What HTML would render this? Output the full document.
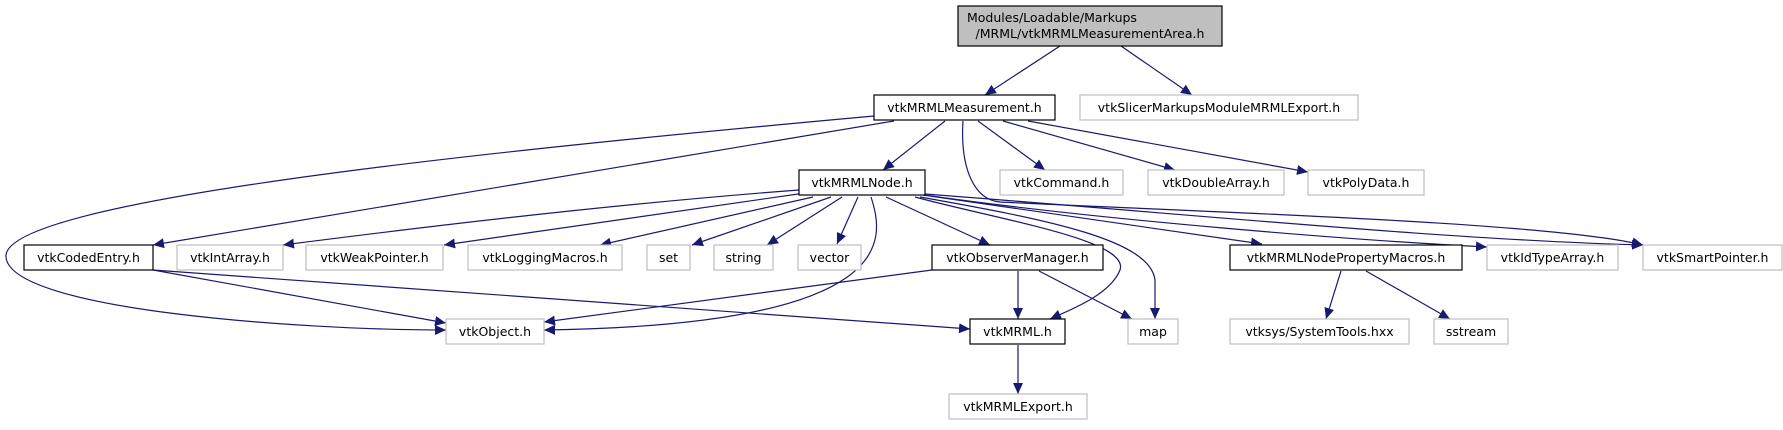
<!DOCTYPE html>
<html><head><meta charset="utf-8"><style>
body{margin:0;background:#fff;}
svg text{font-family:"DejaVu Sans","Liberation Sans",sans-serif;font-size:12.5px;fill:#000;}
</style></head><body>
<svg width="1783" height="425" viewBox="0 0 1783 425" xmlns="http://www.w3.org/2000/svg">
<defs><marker id="a" markerUnits="userSpaceOnUse" markerWidth="12" markerHeight="10" refX="11" refY="5" orient="auto"><path d="M0,0 L11,5 L0,10 z" fill="#191970"/></marker></defs>
<g fill="none" stroke="#191970" stroke-width="1.2" marker-end="url(#a)">
<path d="M1060,46 L985,95"/>
<path d="M1121,46 L1192,95"/>
<path d="M874,116 C500,150 0,200 6,257 C10,310 300,330 446,330"/>
<path d="M894,121 L153,245"/>
<path d="M945,121 L883,170"/>
<path d="M978,121 L1045,170"/>
<path d="M1003,121 L1175,170"/>
<path d="M1028,121 L1308,172"/>
<path d="M963,121 C960,170 975,200 1000,202 C1200,212 1550,222 1643,245"/>
<path d="M799,190 C600,205 400,230 283,245"/>
<path d="M805,193 L444,245"/>
<path d="M813,197 L600,245"/>
<path d="M831,197 L692,245"/>
<path d="M842,197 L767,245"/>
<path d="M858,197 L837,244"/>
<path d="M871,197 C885,240 900,325 544,330"/>
<path d="M886,197 L990,245"/>
<path d="M915,197 C1000,220 1130,240 1120,270 C1110,295 1070,310 1050,319"/>
<path d="M920,197 C1050,220 1150,240 1155,280 L1155,319"/>
<path d="M923,195 L1262,244"/>
<path d="M924,195 C1100,220 1350,240 1487,247"/>
<path d="M925,194 C1200,215 1450,240 1643,245"/>
<path d="M932,270 L544,322"/>
<path d="M1018,271 L1018,319"/>
<path d="M1039,271 L1132,319"/>
<path d="M153,270 L446,323"/>
<path d="M153,270 L970,329"/>
<path d="M1018,345 L1018,394"/>
<path d="M1341,271 L1326,319"/>
<path d="M1366,271 L1450,319"/>
</g>
<g stroke-width="1.2">
<rect x="958" y="6" width="264" height="40" fill="#bfbfbf" stroke="#000"/>
<rect x="874" y="95" width="181" height="25" fill="#fff" stroke="#000"/>
<rect x="1080" y="95" width="278" height="25" fill="#fff" stroke="#bfbfbf"/>
<rect x="799" y="170" width="126" height="25" fill="#fff" stroke="#000"/>
<rect x="1000" y="170" width="123" height="25" fill="#fff" stroke="#bfbfbf"/>
<rect x="1148" y="170" width="136" height="25" fill="#fff" stroke="#bfbfbf"/>
<rect x="1308" y="170" width="116" height="25" fill="#fff" stroke="#bfbfbf"/>
<rect x="24" y="245" width="129" height="25" fill="#fff" stroke="#000"/>
<rect x="177" y="245" width="106" height="25" fill="#fff" stroke="#bfbfbf"/>
<rect x="306" y="245" width="137" height="25" fill="#fff" stroke="#bfbfbf"/>
<rect x="468" y="245" width="154" height="25" fill="#fff" stroke="#bfbfbf"/>
<rect x="647" y="245" width="43" height="25" fill="#fff" stroke="#bfbfbf"/>
<rect x="714" y="245" width="59" height="25" fill="#fff" stroke="#bfbfbf"/>
<rect x="798" y="245" width="63" height="25" fill="#fff" stroke="#bfbfbf"/>
<rect x="932" y="245" width="171" height="25" fill="#fff" stroke="#000"/>
<rect x="1230" y="245" width="232" height="25" fill="#fff" stroke="#000"/>
<rect x="1487" y="245" width="131" height="25" fill="#fff" stroke="#bfbfbf"/>
<rect x="1643" y="245" width="139" height="25" fill="#fff" stroke="#bfbfbf"/>
<rect x="446" y="319" width="98" height="25" fill="#fff" stroke="#bfbfbf"/>
<rect x="970" y="319" width="95" height="25" fill="#fff" stroke="#000"/>
<rect x="1128" y="319" width="50" height="25" fill="#fff" stroke="#bfbfbf"/>
<rect x="1230" y="319" width="179" height="25" fill="#fff" stroke="#bfbfbf"/>
<rect x="1434" y="319" width="74" height="25" fill="#fff" stroke="#bfbfbf"/>
<rect x="949" y="394" width="138" height="25" fill="#fff" stroke="#bfbfbf"/>
</g>
<g text-anchor="middle">
<text x="1090" y="22" text-anchor="start" transform="translate(-123,0)">Modules/Loadable/Markups</text>
<text x="1090" y="38">/MRML/vtkMRMLMeasurementArea.h</text>
<text x="964.5" y="112">vtkMRMLMeasurement.h</text>
<text x="1219" y="112">vtkSlicerMarkupsModuleMRMLExport.h</text>
<text x="862" y="187">vtkMRMLNode.h</text>
<text x="1061.5" y="187">vtkCommand.h</text>
<text x="1216" y="187">vtkDoubleArray.h</text>
<text x="1366" y="187">vtkPolyData.h</text>
<text x="88.5" y="262">vtkCodedEntry.h</text>
<text x="230" y="262">vtkIntArray.h</text>
<text x="374.5" y="262">vtkWeakPointer.h</text>
<text x="545" y="262">vtkLoggingMacros.h</text>
<text x="668.5" y="262">set</text>
<text x="743.5" y="262">string</text>
<text x="829.5" y="262">vector</text>
<text x="1017.5" y="262">vtkObserverManager.h</text>
<text x="1346" y="262">vtkMRMLNodePropertyMacros.h</text>
<text x="1552.5" y="262">vtkIdTypeArray.h</text>
<text x="1712.5" y="262">vtkSmartPointer.h</text>
<text x="495" y="336">vtkObject.h</text>
<text x="1017.5" y="336">vtkMRML.h</text>
<text x="1153" y="336">map</text>
<text x="1319.5" y="336">vtksys/SystemTools.hxx</text>
<text x="1471" y="336">sstream</text>
<text x="1018" y="411">vtkMRMLExport.h</text>
</g>
</svg>
</body></html>
